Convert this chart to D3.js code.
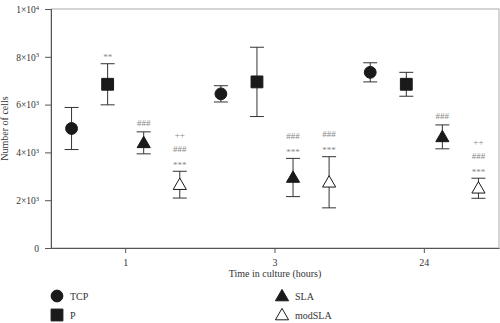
<!DOCTYPE html>
<html><head><meta charset="utf-8">
<script src="https://cdn.jsdelivr.net/npm/d3@7"></script>
<style>body{margin:0;background:#fff}svg{display:block}</style>
</head><body><svg id="c" width="500" height="323"></svg>
<script>
const times = ["1", "3", "24"];
const series = ["TCP", "P", "SLA", "modSLA"];
// mean values per series across times
const TCP = [5000, 6450, 7350];
const P = [6850, 6950, 6850];
const SLA = [4400, 2950, 4650];
const modSLA = [2650, 2750, 2500];
// error (SD) per series
const TCP_err = [880, 340, 400];
const P_err = [860, 1450, 500];
const SLA_err = [460, 800, 500];
const modSLA_err = [560, 1070, 420];
const yTicks = [0, 2000, 4000, 6000, 8000, 10000];
// significance labels, listed bottom-to-top
const annTime = ["1", "1", "1", "3", "3", "24", "24"];
const annSeries = ["P", "SLA", "modSLA", "SLA", "modSLA", "SLA", "modSLA"];
const annLines = [["**"], ["###"], ["***", "###", "++"], ["***", "###"], ["***", "###"], ["###"], ["***", "###", "++"]];

const vals = {TCP, P, SLA, modSLA};
const errs = {TCP: TCP_err, P: P_err, SLA: SLA_err, modSLA: modSLA_err};

const svg = d3.select("#c");
const m = {l: 51, r: 1, t: 9, b: 75};
const W = 500, H = 323;
const x0 = d3.scaleBand().domain(times).range([m.l, W - m.r]).padding(0);
const x1 = d3.scalePoint().domain(series).range([0, x0.bandwidth()]).padding(0.57);
const y = d3.scaleLinear().domain([0, 10000]).range([H - m.b, m.t]);
const serif = "'Liberation Serif','DejaVu Serif',serif";

// frame
svg.append("rect").attr("x", m.l).attr("y", m.t).attr("width", W - m.r - m.l).attr("height", y(0) - m.t)
  .attr("fill", "none").attr("stroke", "#aaa").attr("stroke-width", 1);

// y axis
const ya = svg.append("g").attr("transform", `translate(${m.l},0)`)
  .call(d3.axisLeft(y).tickValues(yTicks).tickSize(6).tickFormat(() => ""));
ya.selectAll("path,line").attr("stroke", "#555");
ya.selectAll(".tick").each(function(d) {
  const t = d3.select(this).select("text").attr("x", -12).attr("dy", "0.35em")
    .attr("font-family", serif).attr("font-size", 9.5).attr("fill", "#333").attr("text-anchor", "end");
  t.text(null);
  if (d === 0) { t.text("0"); return; }
  const exp = d >= 10000 ? 4 : 3;
  const mant = d / Math.pow(10, exp);
  t.append("tspan").text(mant + "×10");
  t.append("tspan").attr("font-size", 6.5).attr("dy", "-0.5em").text(exp);
});

// x axis
const xa = svg.append("g").attr("transform", `translate(0,${y(0)})`)
  .call(d3.axisBottom(x0).tickSize(5).tickSizeOuter(0));
xa.selectAll("path,line").attr("stroke", "#555");
xa.selectAll("text").attr("font-family", serif).attr("font-size", 10).attr("fill", "#333").attr("dy", "1.0em");

svg.append("text").attr("x", x0("3") + x0.bandwidth() / 2).attr("y", 277)
  .attr("text-anchor", "middle").attr("font-family", serif).attr("font-size", 10).attr("fill", "#333")
  .text("Time in culture (hours)");
svg.append("text").attr("transform", `translate(8,${(m.t + y(0)) / 2}) rotate(-90)`)
  .attr("text-anchor", "middle").attr("font-family", serif).attr("font-size", 10).attr("fill", "#333")
  .text("Number of cells");

const sym = {
  TCP: d3.symbol().type(d3.symbolCircle).size(110),
  P: d3.symbol().type(d3.symbolSquare).size(140),
  SLA: d3.symbol().type(d3.symbolTriangle).size(75),
  modSLA: d3.symbol().type(d3.symbolTriangle).size(75)
};
const fillOf = s => s === "modSLA" ? "#fff" : "#1a1a1a";

const pts = [];
series.forEach(s => times.forEach((t, i) => pts.push({s, t, v: vals[s][i], e: errs[s][i]})));
const px = d => x0(d.t) + x1(d.s);

const g = svg.append("g");
pts.forEach(d => {
  const cx = px(d);
  const gg = g.append("g").attr("stroke", "#333").attr("stroke-width", 1);
  gg.append("line").attr("x1", cx).attr("x2", cx).attr("y1", y(d.v + d.e)).attr("y2", y(d.v - d.e));
  [d.v + d.e, d.v - d.e].forEach(v => gg.append("line").attr("x1", cx - 7).attr("x2", cx + 7).attr("y1", y(v)).attr("y2", y(v)));
  g.append("path").attr("d", sym[d.s]()).attr("transform", `translate(${cx},${y(d.v) + (d.s.includes("SLA") ? 1 : 0)})`)
    .attr("fill", fillOf(d.s)).attr("stroke", "#1a1a1a").attr("stroke-width", 1);
});

// annotations
annTime.forEach((t, k) => {
  const s = annSeries[k];
  const i = times.indexOf(t);
  const top = y(vals[s][i] + errs[s][i]);
  const cx = x0(t) + x1(s);
  annLines[k].forEach((txt, j) => {
    const c = top - 9 - j * 13.5;
    const base = txt.includes("*") ? c + 5.5 : c + 3.2;
    svg.append("text").attr("x", cx).attr("y", base).attr("text-anchor", "middle")
      .attr("font-family", serif).attr("font-size", 9).attr("fill", "#888").text(txt);
  });
});

// legend
const leg = [{s: "TCP", x: 57, y: 296}, {s: "P", x: 57, y: 315}, {s: "SLA", x: 282, y: 296}, {s: "modSLA", x: 282, y: 315}];
leg.forEach(l => {
  svg.append("path").attr("d", sym[l.s]()).attr("transform", `translate(${l.x},${l.y + (l.s.includes("SLA") ? 1 : 0)})`)
    .attr("fill", fillOf(l.s)).attr("stroke", "#1a1a1a").attr("stroke-width", 1);
  svg.append("text").attr("x", l.x + 13).attr("y", l.y).attr("dy", "0.35em")
    .attr("font-family", serif).attr("font-size", 10).attr("fill", "#333").text(l.s);
});
</script></body></html>
